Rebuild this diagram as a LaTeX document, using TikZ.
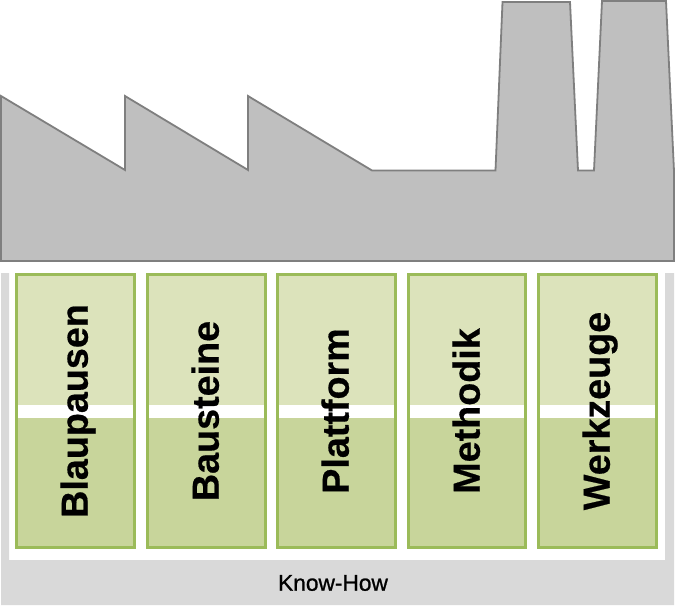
\documentclass[tikz,border=0pt]{standalone}
\usepackage{fontspec}
\setmainfont{Liberation Sans}
\newfontfamily\pillarfont[FakeBold=0.5]{Liberation Sans Bold}
\newfontfamily\knowfont[FakeBold=1]{Liberation Sans}
\definecolor{frameGrey}{HTML}{D9D9D9}
\definecolor{factFill}{HTML}{BFBFBF}
\definecolor{factLine}{HTML}{7F7F7F}
\definecolor{boxLine}{HTML}{9BBB59}
\definecolor{boxLight}{HTML}{DCE3BB}
\definecolor{boxDark}{HTML}{C8D59B}
\tikzset{
  pillar/.style={draw=boxLine,line width=3.2pt,fill=none},
  pillarlabel/.style={rotate=90,anchor=base,font=\pillarfont\fontsize{37.7}{37.7}\selectfont,inner sep=0pt,text=black},
}
\newcommand{\pillarbox}[4]{% name, left, right, text
  \fill[boxLight] (#2,274) rectangle (#3,405);
  \fill[white] (#2,404.5) rectangle (#3,417.5);
  \fill[boxDark] (#2,417.5) rectangle (#3,547);
  \draw[pillar] (#2+1.5,274.5) rectangle (#3-1.2,547.3);
  \node[pillarlabel] (#1) at (#2+72.7,411) {#4};
}
\begin{document}
\begin{tikzpicture}[x=1pt,y=-1pt]
\useasboundingbox (0,0) rectangle (675,610);
\fill[white] (0,0) rectangle (675,610);
% factory
\draw[fill=factFill,draw=factLine,line width=1.8pt,line join=miter]
  (1,96) -- (125,170) -- (125,96) -- (248,170) -- (248,96) -- (372,170.5) -- (495.5,170.5)
  -- (502.5,2) -- (570,2) -- (578,170.5) -- (594,170.5) -- (602,1) -- (666,1) -- (674,171)
  -- (674,261) -- (1,261) -- cycle;
% know-how frame
\fill[frameGrey] (1,273) -- (9,273) -- (9,560) -- (665,560) -- (665,273) -- (674,273) -- (674,605) -- (1,605) -- cycle;
\node[inner sep=0pt,font=\knowfont\fontsize{22.7}{22.7}\selectfont] (knowhow) at (333,583) {Know-How};
% pillars
\pillarbox{blau}{15}{136}{Blaupausen}
\pillarbox{baus}{146}{267}{Bausteine}
\pillarbox{platt}{276}{397}{Plattform}
\pillarbox{meth}{407}{527}{Methodik}
\pillarbox{werk}{537}{658}{Werkzeuge}
\end{tikzpicture}
\end{document}
